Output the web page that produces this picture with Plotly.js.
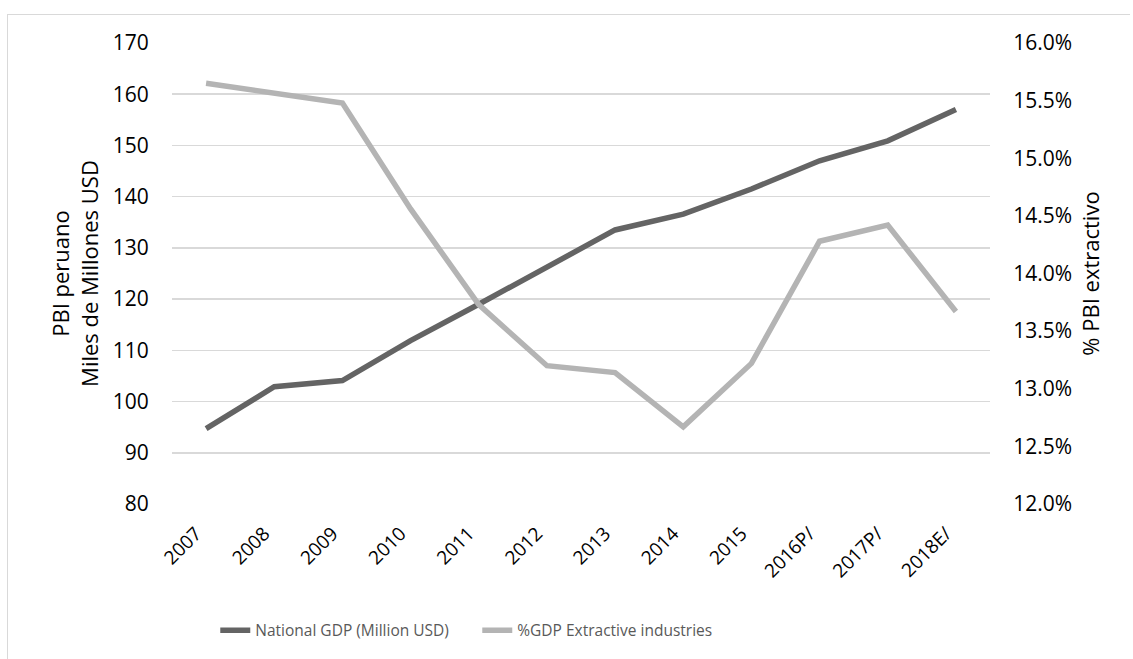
<!DOCTYPE html>
<html>
<head>
<meta charset="utf-8">
<script src="https://cdn.plot.ly/plotly-3.0.1.min.js"></script>
<style>
  html, body { margin: 0; padding: 0; background: #ffffff; }
  #chart { width: 1133px; height: 659px; }
  #frame { position: absolute; left: 7px; top: 14px; width: 1123px; height: 700px;
           border-left: 1.5px solid #d9d9d9; border-top: 1.5px solid #d9d9d9;
           pointer-events: none; box-sizing: border-box; }
</style>
</head>
<body>
<div id="chart"></div>
<div id="frame"></div>
<script>
const years = ['2007', '2008', '2009', '2010', '2011', '2012', '2013', '2014', '2015', '2016P/', '2017P/', '2018E/'];
const gdpMillionUSD = [94.7, 102.9, 104.1, 111.9, 119.0, 126.3, 133.5, 136.6, 141.5, 147.0, 150.9, 157.0];
const extractiveShare = [15.65, 15.56, 15.48, 14.56, 13.73, 13.20, 13.14, 12.67, 13.22, 14.28, 14.42, 13.67];
const seriesNames = ['National GDP (Million USD)', '%GDP Extractive industries'];
const leftTitle = 'PBI peruano<br>Miles de Millones USD';
const rightTitle = '% PBI extractivo';

const FONT = 'Open Sans, Noto Sans, sans-serif';

const traces = [
  { x: years, y: gdpMillionUSD, name: seriesNames[0], type: 'scatter', mode: 'lines',
    line: { color: '#646464', width: 5.5 }, yaxis: 'y' },
  { x: years, y: extractiveShare, name: seriesNames[1], type: 'scatter', mode: 'lines',
    line: { color: '#b4b4b4', width: 5.5 }, yaxis: 'y2' }
];

const layout = {
  width: 1133, height: 659,
  margin: { l: 172, r: 143, t: 43, b: 155, autoexpand: false },
  paper_bgcolor: '#ffffff', plot_bgcolor: '#ffffff',
  font: { family: FONT, size: 21, color: '#000000' },
  showlegend: true,
  legend: {
    orientation: 'h', xref: 'container', yref: 'container',
    x: 0.19, xanchor: 'left', y: 0.043, yanchor: 'middle',
    font: { family: FONT, size: 15.5, color: '#595959' },
    entrywidth: 217, bgcolor: 'rgba(0,0,0,0)'
  },
  xaxis: {
    type: 'category', range: [-0.5, 11.5], tickangle: -45, showgrid: false, zeroline: false, showline: false,
    ticks: 'outside', ticklen: 10, tickcolor: 'rgba(0,0,0,0)', automargin: false, ticklabelshift: -10,
    tickfont: { family: FONT, size: 19, color: '#000000' }
  },
  yaxis: {
    range: [80, 170], dtick: 10, tick0: 80, showgrid: true, gridcolor: '#d9d9d9', gridwidth: 1.5,
    zeroline: false, showline: false, ticks: 'outside', ticklen: 18, tickcolor: 'rgba(0,0,0,0)',
    automargin: false,
    tickfont: { family: FONT, size: 21, color: '#000000' },
    title: { text: leftTitle, font: { family: FONT, size: 22, color: '#000000' }, standoff: 8 }
  },
  yaxis2: {
    overlaying: 'y', side: 'right', range: [12, 16], dtick: 0.5, tick0: 12,
    tickformat: '.1f', ticksuffix: '%', showgrid: false, zeroline: false, showline: false,
    ticks: 'outside', ticklen: 18, tickcolor: 'rgba(0,0,0,0)', automargin: false,
    tickfont: { family: FONT, size: 21, color: '#000000' },
    title: { text: rightTitle, font: { family: FONT, size: 22, color: '#000000' }, standoff: 12 }
  }
};

Plotly.newPlot('chart', traces, layout, { displayModeBar: false, staticPlot: true });
</script>
</body>
</html>
